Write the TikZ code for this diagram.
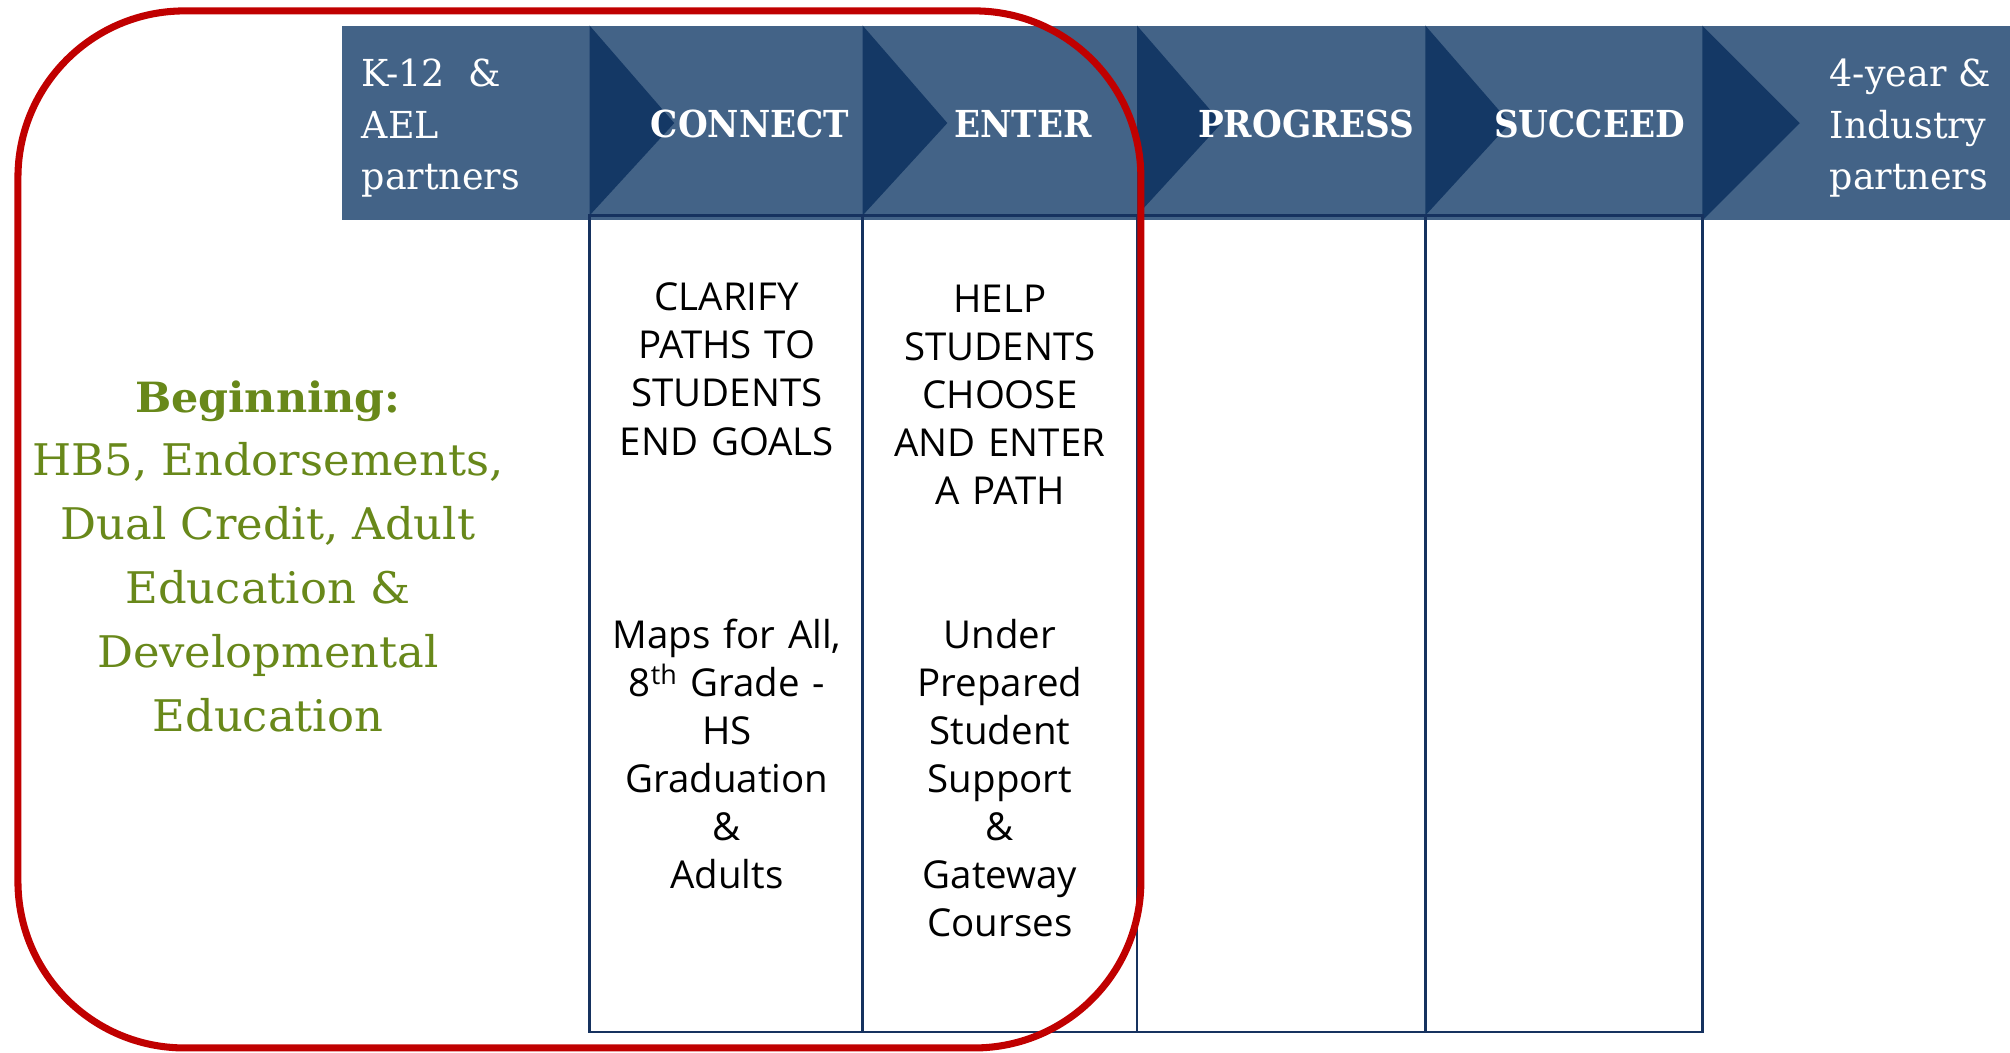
\documentclass[tikz,border=0pt]{standalone}
\usepackage{fontspec}
\newfontfamily\colfont{Open Sans}
\newfontfamily\slab{DejaVu Serif}[FakeStretch=0.92]
\newfontfamily\slabp{DejaVu Serif}[FakeStretch=0.98]
\newfontfamily\slabw{DejaVu Serif}[FakeStretch=1.03]
\definecolor{bandblue}{RGB}{67,99,135}
\definecolor{darkblue}{RGB}{20,56,101}
\definecolor{colline}{RGB}{22,50,95}
\definecolor{redline}{RGB}{192,0,0}
\definecolor{olive}{RGB}{104,136,26}
\tikzset{
  hdr/.style={text=white, font=\slab\bfseries\fontsize{29}{34}\selectfont, inner sep=0},
  partner/.style={text=white, font=\slabp\fontsize{29}{40}\selectfont, inner sep=0},
  coltext/.style={text=black, font=\colfont\fontsize{30}{37.5}\selectfont, align=center, text width=205, inner sep=0},
  colbox/.style={draw=colline, line width=2},
  greentext/.style={text=olive, font=\slabw\fontsize{34}{50}\selectfont, align=center, inner sep=0},
}
\begin{document}
\begin{tikzpicture}[x=1pt,y=-1pt]
\useasboundingbox (0,0) rectangle (1568,820.7);
% band
\fill[bandblue] (267,20) rectangle (1568,172);
\foreach \xx in {460,673,887,1112}{
  \fill[darkblue] (\xx,20) -- (\xx+66,96) -- (\xx,168) -- cycle;
}
\fill[darkblue] (1328,20) -- (1404,96) -- (1328,172) -- cycle;
% columns
\draw[colbox] (460,168) rectangle (673,805);
\draw[colbox] (673,168) rectangle (887,805);
\draw[colbox] (887,168) rectangle (1112,805);
\draw[colbox] (1112,168) rectangle (1328,805);
% header texts
\node[partner, anchor=west, align=left] (k12) at (282,100) {K-12\ \ \&\\AEL\\partners};
\node[hdr] (connect) at (585,97) {CONNECT};
\node[hdr] (enter) at (798,97) {ENTER};
\node[hdr] (progress) at (1019,97) {PROGRESS};
\node[hdr] (succeed) at (1240,97) {SUCCEED};
\node[partner, anchor=east, align=left] (four) at (1553,100) {4-year \&\\Industry\\partners};
% left text
\node[text=olive, font=\slabw\bfseries\fontsize{32.5}{40}\selectfont, inner sep=0] (beg) at (209,313) {Beginning:};
\node[greentext] (hb5) at (209,458) {HB5, Endorsements,\\Dual Credit, Adult\\Education \&\\Developmental\\Education};
% column texts
\node[coltext] (clarify) at (567,288) {CLARIFY\\PATHS TO\\STUDENTS\\END GOALS};
\node[coltext] (help) at (780,308) {HELP\\STUDENTS\\CHOOSE\\AND ENTER\\A PATH};
\node[coltext] (maps) at (567,588) {Maps for All,\\8\textsuperscript{th} Grade -\\HS\\Graduation\\\&\\Adults};
\node[coltext] (under) at (780,607) {Under\\Prepared\\Student\\Support\\\&\\Gateway\\Courses};
% red outline
\draw[redline, line width=5.5, rounded corners=130] (14,8.5) rectangle (890,817.5);
\end{tikzpicture}
\end{document}
